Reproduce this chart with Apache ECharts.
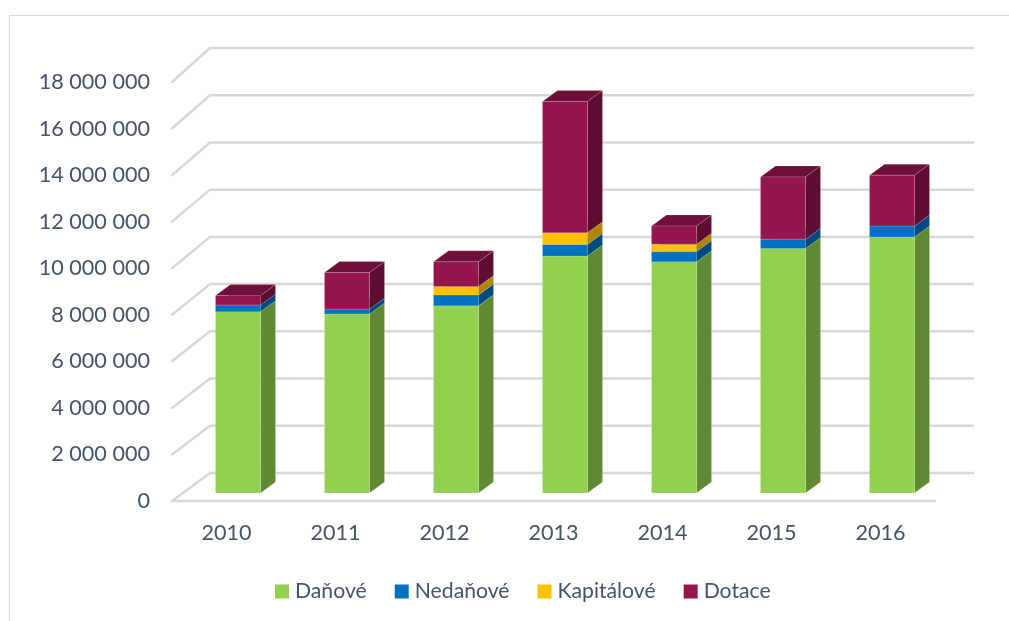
<!DOCTYPE html>
<html>
<head>
<meta charset="utf-8">
<script src="https://cdn.jsdelivr.net/npm/echarts@6/dist/echarts.min.js"></script>
<style>
html,body{margin:0;padding:0;background:#fff;}
#chart{width:1009px;height:621px;}
</style>
</head>
<body>
<div id="chart"></div>
<script>
// ---- data ----
var years = ['2010', '2011', '2012', '2013', '2014', '2015', '2016'];
var danove    = [7790000, 7690000, 8040000, 10180000, 9930000, 10500000, 11000000];
var nedanove  = [290000, 210000, 470000, 500000, 440000, 400000, 470000];
var kapitalove = [0, 0, 360000, 500000, 320000, 0, 0];
var dotace    = [400000, 1570000, 1060000, 5640000, 780000, 2680000, 2180000];
var seriesNames = ['Daňové', 'Nedaňové', 'Kapitálové', 'Dotace'];
var yTicks = [0, 2000000, 4000000, 6000000, 8000000, 10000000, 12000000, 14000000, 16000000, 18000000];

// ---- styles ----
var palette = [
  {front: '#92D050', side: '#5F8A33', top: '#7AB23F'},
  {front: '#0070C0', side: '#004A80', top: '#005C9E'},
  {front: '#FFC000', side: '#B08400', top: '#D9A300'},
  {front: '#95164F', side: '#5E0D32', top: '#6E1039'}
];
var TEXT = '#44546A';
var FONT = 'Lato';
var FS = 21.6;
var GRID_COLOR = '#D6D8DC';

var chart = echarts.init(document.getElementById('chart'), null, {renderer: 'canvas'});

var layers = [danove, nedanove, kapitalove, dotace];
var cum = years.map(function(){ return 0; });
var barSeries = layers.map(function(arr, si){
  var data = arr.map(function(v, i){
    var lo = cum[i];
    cum[i] += v;
    return [i, lo, cum[i]];
  });
  var col = palette[si];
  return {
    name: seriesNames[si],
    type: 'custom',
    coordinateSystem: 'cartesian2d',
    clip: false,
    itemStyle: {color: col.front},
    encode: {x: 0, y: [1, 2]},
    z: 10 + si,
    data: data,
    renderItem: function(params, api){
      var cat = api.value(0), lo = api.value(1), hi = api.value(2);
      if (hi - lo <= 0) return null;
      var band = api.size([1, 0])[0];
      var w = band * 0.413;
      var p0 = api.coord([cat, lo]);
      var p1 = api.coord([cat, hi]);
      var sx = 11.5, sy = 8, dx = 15, dy = 11;
      var x1 = p0[0] - w / 2 + sx, x2 = x1 + w;
      var yb = p0[1] - sy, yt = p1[1] - sy;
      return {
        type: 'group',
        children: [
          {type: 'polygon', shape: {points: [[x2, yb], [x2, yt], [x2 + dx, yt - dy], [x2 + dx, yb - dy]]},
           style: {fill: col.side, stroke: 'rgba(255,255,255,0.25)', lineWidth: 0.6}},
          {type: 'polygon', shape: {points: [[x1, yt], [x2, yt], [x2 + dx, yt - dy], [x1 + dx, yt - dy]]},
           style: {fill: col.top, stroke: 'rgba(255,255,255,0.25)', lineWidth: 0.6}},
          {type: 'rect', shape: {x: x1, y: yt, width: w, height: yb - yt},
           style: {fill: col.front, stroke: 'rgba(255,255,255,0.25)', lineWidth: 0.6}}
        ]
      };
    }
  };
});

var gridSeries = {
  name: 'grid',
  type: 'custom',
  coordinateSystem: 'cartesian2d',
  clip: false,
  silent: true,
  z: 1,
  encode: {x: 0, y: 1},
  data: yTicks.map(function(v){ return [0, v]; }),
  renderItem: function(params, api){
    var cs = params.coordSys;
    var v = api.value(1);
    var yf = api.coord([0, v])[1];
    var dx = 38, dy = 28 + 6 * (v / 18000000);
    var xl = cs.x, xr = cs.x + cs.width;
    var st = {fill: 'none', stroke: GRID_COLOR, lineWidth: 2.5, lineCap: 'round', lineJoin: 'round'};
    var ch = [
      {type: 'polyline', shape: {points: [[xl, yf], [xl + dx, yf - dy], [xr + dx, yf - dy]]}, style: st}
    ];
    if (v === 0) {
      ch.push({type: 'line', shape: {x1: xl, y1: yf, x2: xr, y2: yf}, style: st});
    }
    return {type: 'group', children: ch};
  }
};

function fmt(v){
  return String(v).replace(/\B(?=(\d{3})+(?!\d))/g, ' ');
}

var option = {
  backgroundColor: '#ffffff',
  animation: false,
  textStyle: {fontFamily: FONT},
  graphic: [{
    type: 'rect', left: 7, top: 13, silent: true,
    shape: {width: 1020, height: 640},
    style: {fill: 'none', stroke: '#D9D9D9', lineWidth: 1}
  }],
  grid: {left: 172, right: 74, top: 82, bottom: 120, containLabel: false},
  xAxis: {
    type: 'category',
    data: years,
    axisLine: {show: false},
    axisTick: {show: false},
    splitLine: {show: false},
    axisLabel: {color: TEXT, fontSize: FS, fontFamily: FONT, margin: 21}
  },
  yAxis: {
    type: 'value',
    min: 0, max: 18000000, interval: 2000000,
    axisLine: {show: false},
    axisTick: {show: false},
    splitLine: {show: false},
    axisLabel: {color: TEXT, fontSize: FS, fontFamily: FONT, margin: 22, formatter: fmt}
  },
  legend: {
    data: seriesNames,
    left: 270, top: 576,
    itemWidth: 14, itemHeight: 14, itemGap: 28,
    icon: 'rect',
    textStyle: {color: TEXT, fontSize: 21.2, fontFamily: FONT, padding: [0, 0, 0, 1]}
  },
  series: [gridSeries].concat(barSeries)
};
chart.setOption(option);
</script>
</body>
</html>
